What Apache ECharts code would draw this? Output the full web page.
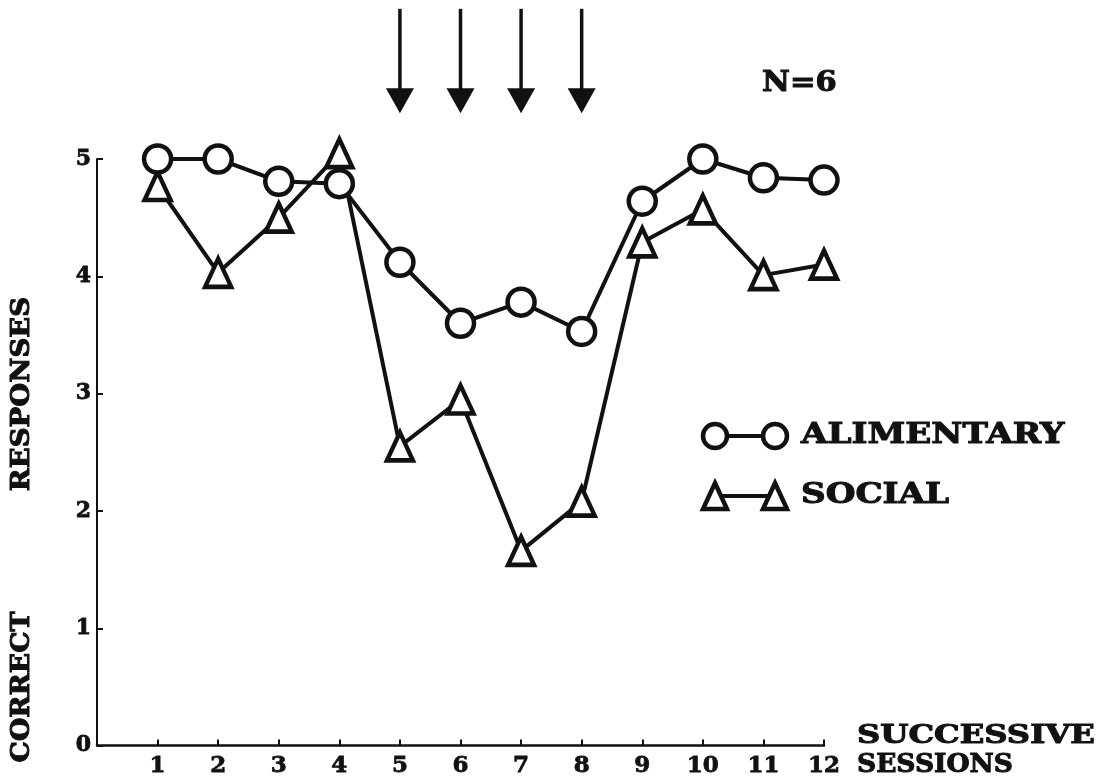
<!DOCTYPE html>
<html><head><meta charset="utf-8">
<script src="https://cdn.jsdelivr.net/npm/echarts@6/dist/echarts.min.js"></script>
<style>html,body{margin:0;padding:0;background:#fff}#c{width:1102px;height:778px}</style>
</head><body><div id="c"></div>
<script>
const sessions = [1,2,3,4,5,6,7,8,9,10,11,12];
const alimentary = [5.0,5.0,4.81,4.79,4.12,3.60,3.78,3.53,4.64,5.0,4.84,4.82];
const social = [4.77,4.03,4.5,5.05,2.55,2.95,1.66,2.08,4.29,4.57,4.01,4.10];
const yTickValues = [0,1,2,3,4,5];
const arrowSessions = [5,6,7,8];
const seriesNames = ['ALIMENTARY','SOCIAL'];
const sampleLabel = 'N=6';
const yAxisWords = ['CORRECT','RESPONSES'];
const xAxisWords = ['SUCCESSIVE','SESSIONS'];

const FONT = '"DejaVu Serif", "Liberation Serif", serif';
const INK = '#111';
const chart = echarts.init(document.getElementById('c'), null, {renderer:'canvas'});

const symStyle = {color:'#fff', borderColor:INK, borderWidth:4.5};
const labelBase = {color:INK, fontFamily:FONT, fontWeight:'bold', textBorderColor:INK, textBorderWidth:0.8};
const option = {
  animation:false,
  backgroundColor:'#fff',
  grid:{left:97, right:278, top:159, bottom:32, containLabel:false},
  xAxis:{
    type:'value', min:0, max:12, interval:1,
    axisLine:{show:true, lineStyle:{color:INK, width:2.5}},
    axisTick:{show:true, inside:true, length:6, lineStyle:{color:INK, width:2}},
    axisLabel:Object.assign({formatter:v=> v===0 ? '' : String(v), fontSize:23, margin:9}, labelBase),
    splitLine:{show:false}
  },
  yAxis:{
    type:'value', min:yTickValues[0], max:yTickValues[yTickValues.length-1], interval:1,
    axisLine:{show:true, lineStyle:{color:INK, width:2}},
    axisTick:{show:true, inside:true, length:6, lineStyle:{color:INK, width:2}},
    axisLabel:Object.assign({fontSize:22, margin:6}, labelBase),
    splitLine:{show:false}
  },
  series:[
    {name:seriesNames[0], type:'line', clip:false, symbol:'circle', symbolSize:27,
     itemStyle:symStyle, lineStyle:{color:INK, width:4}, z:3,
     data:sessions.map((s,i)=>[s, alimentary[i]])},
    {name:seriesNames[1], type:'line', clip:false, symbol:'triangle', symbolSize:[26,28],
     itemStyle:symStyle, lineStyle:{color:INK, width:4}, z:2,
     data:sessions.map((s,i)=>[s, social[i]])}
  ]
};
chart.setOption(option);

// annotations: arrows above treatment sessions, placed through the axis scales
const arrowTopValue = 6.28, arrowTipValue = 5.39;
const g = [];
arrowSessions.forEach(s=>{
  const top = chart.convertToPixel({gridIndex:0}, [s, arrowTopValue]);
  const tip = chart.convertToPixel({gridIndex:0}, [s, arrowTipValue]);
  const headH = 25, headW = 28;
  g.push({type:'line', shape:{x1:top[0], y1:top[1], x2:tip[0], y2:tip[1]-headH+2}, style:{stroke:INK, lineWidth:3.5}});
  g.push({type:'polygon', shape:{points:[[tip[0]-headW/2, tip[1]-headH],[tip[0]+headW/2, tip[1]-headH],[tip[0], tip[1]]]}, style:{fill:INK}});
});
function txt(x, y, s, size, sx, opts){
  return Object.assign({type:'text', x:x, y:y, scaleX:sx, style:{text:s, font:'bold '+size+'px '+FONT, fill:INK, stroke:INK, lineWidth:1, align:'left', verticalAlign:'middle'}}, opts||{});
}
// sample size
g.push(txt(762, 84, sampleLabel, 27, 1.13));
// legend
const legRows = [{y:436, sym:'circle'},{y:496, sym:'triangle'}];
legRows.forEach((r,i)=>{
  const x1 = 715, x2 = 775;
  g.push({type:'line', shape:{x1:x1, y1:r.y, x2:x2, y2:r.y}, style:{stroke:INK, lineWidth:4}});
  [x1,x2].forEach(x=>{
    if(r.sym==='circle'){
      g.push({type:'circle', shape:{cx:x, cy:r.y, r:12}, style:{fill:'#fff', stroke:INK, lineWidth:4.5}});
    } else {
      g.push({type:'polygon', shape:{points:[[x, r.y-13],[x+12, r.y+13],[x-12, r.y+13]]}, style:{fill:'#fff', stroke:INK, lineWidth:4.5}});
    }
  });
  g.push(txt(801, r.y, seriesNames[i], 28, 1.22));
});
// axis titles
const yt1 = txt(22, 687, yAxisWords[0], 26, 1.03, {rotation:Math.PI/2}); yt1.style.align='center';
const yt2 = txt(22, 394, yAxisWords[1], 26, 1.06, {rotation:Math.PI/2}); yt2.style.align='center';
g.push(yt1, yt2);
g.push(txt(857, 736, xAxisWords[0], 26, 1.24));
g.push(txt(857, 765, xAxisWords[1], 26, 1.02));
chart.setOption({graphic:{elements:g}});
</script>
</body></html>
